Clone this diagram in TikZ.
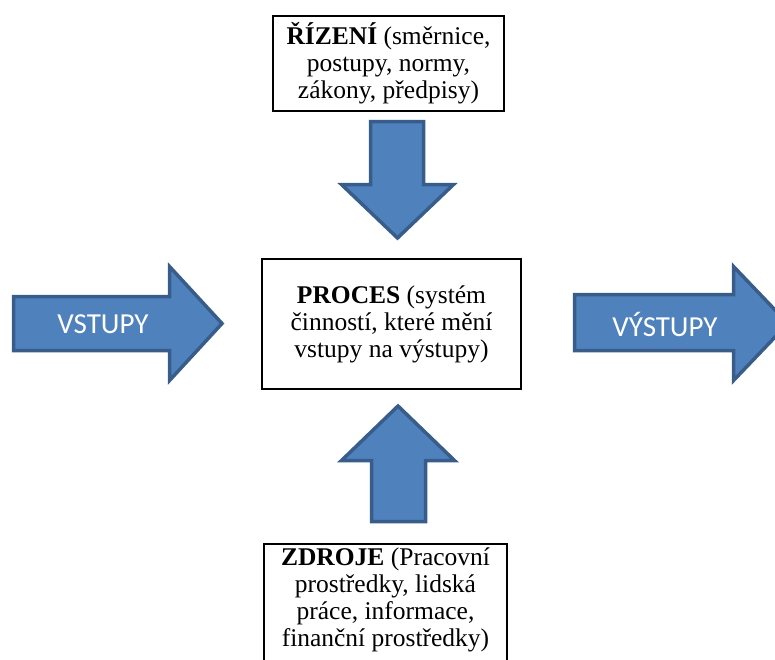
\documentclass[tikz,border=0pt]{standalone}
\usepackage{fontspec}
\setmainfont{Liberation Serif}
\newfontfamily\arrowfont{Carlito}
\definecolor{arrowfill}{HTML}{4F81BD}
\definecolor{arrowline}{HTML}{385D8A}
\begin{document}
\begin{tikzpicture}[x=1pt,y=-1pt,
  textbox/.style={draw=black, line width=2pt, fill=white, inner sep=0pt,
    align=center, font=\fontsize{25.5}{27}\selectfont},
  boxtext/.style={inner sep=0pt, align=center, font=\fontsize{25.5}{27}\selectfont},
  blockarrow/.style={fill=arrowfill, draw=arrowline, line width=3.5pt, line join=miter},
  arrowlabel/.style={text=white, inner sep=0pt, font=\arrowfont\fontsize{29}{32}\selectfont}]
\useasboundingbox (0,0) rectangle (775,659);
\clip (0,0) rectangle (775,659);

% block arrows
\path[blockarrow] (13.5,296.5) -- (169.5,296.5) -- (169.5,266.5) -- (222,323.5)
  -- (169.5,380.5) -- (169.5,350.5) -- (13.5,350.5) -- cycle;
\path[blockarrow] (574.5,294.5) -- (733.5,294.5) -- (733.5,266.5) -- (788,323.5)
  -- (733.5,380.5) -- (733.5,350.5) -- (574.5,350.5) -- cycle;
\path[blockarrow] (370.5,121.5) -- (423.5,121.5) -- (423.5,184.5) -- (453.5,184.5)
  -- (397.5,238) -- (341.5,184.5) -- (370.5,184.5) -- cycle;
\path[blockarrow] (371.5,521.5) -- (371.5,460.5) -- (341.5,460.5) -- (398,406)
  -- (454.5,460.5) -- (425.5,460.5) -- (425.5,521.5) -- cycle;

\node[arrowlabel] (vstupy) at (103,324) {VSTUPY};
\node[arrowlabel] (vystupy) at (665,324) {VÝSTUPY};

% text boxes
\node[textbox, minimum width=231pt, minimum height=95pt] (rizeni) at (388.5,63.5)
  {\textbf{ŘÍZENÍ} (směrnice,\\ postupy, normy,\\ zákony, předpisy)};
\node[textbox, minimum width=259pt, minimum height=130pt] (proces) at (391.5,324)
  {\textbf{PROCES} (systém\\ činností, které mění\\ vstupy na výstupy)};
\node[textbox, minimum width=243pt, minimum height=140pt, anchor=north] (zdroje) at (385.5,543) {};
\node[boxtext] (zdrojetext) at (385.5,600)
  {\textbf{ZDROJE} (Pracovní\\ prostředky, lidská\\ práce, informace,\\ finanční prostředky)};
\end{tikzpicture}
\end{document}
